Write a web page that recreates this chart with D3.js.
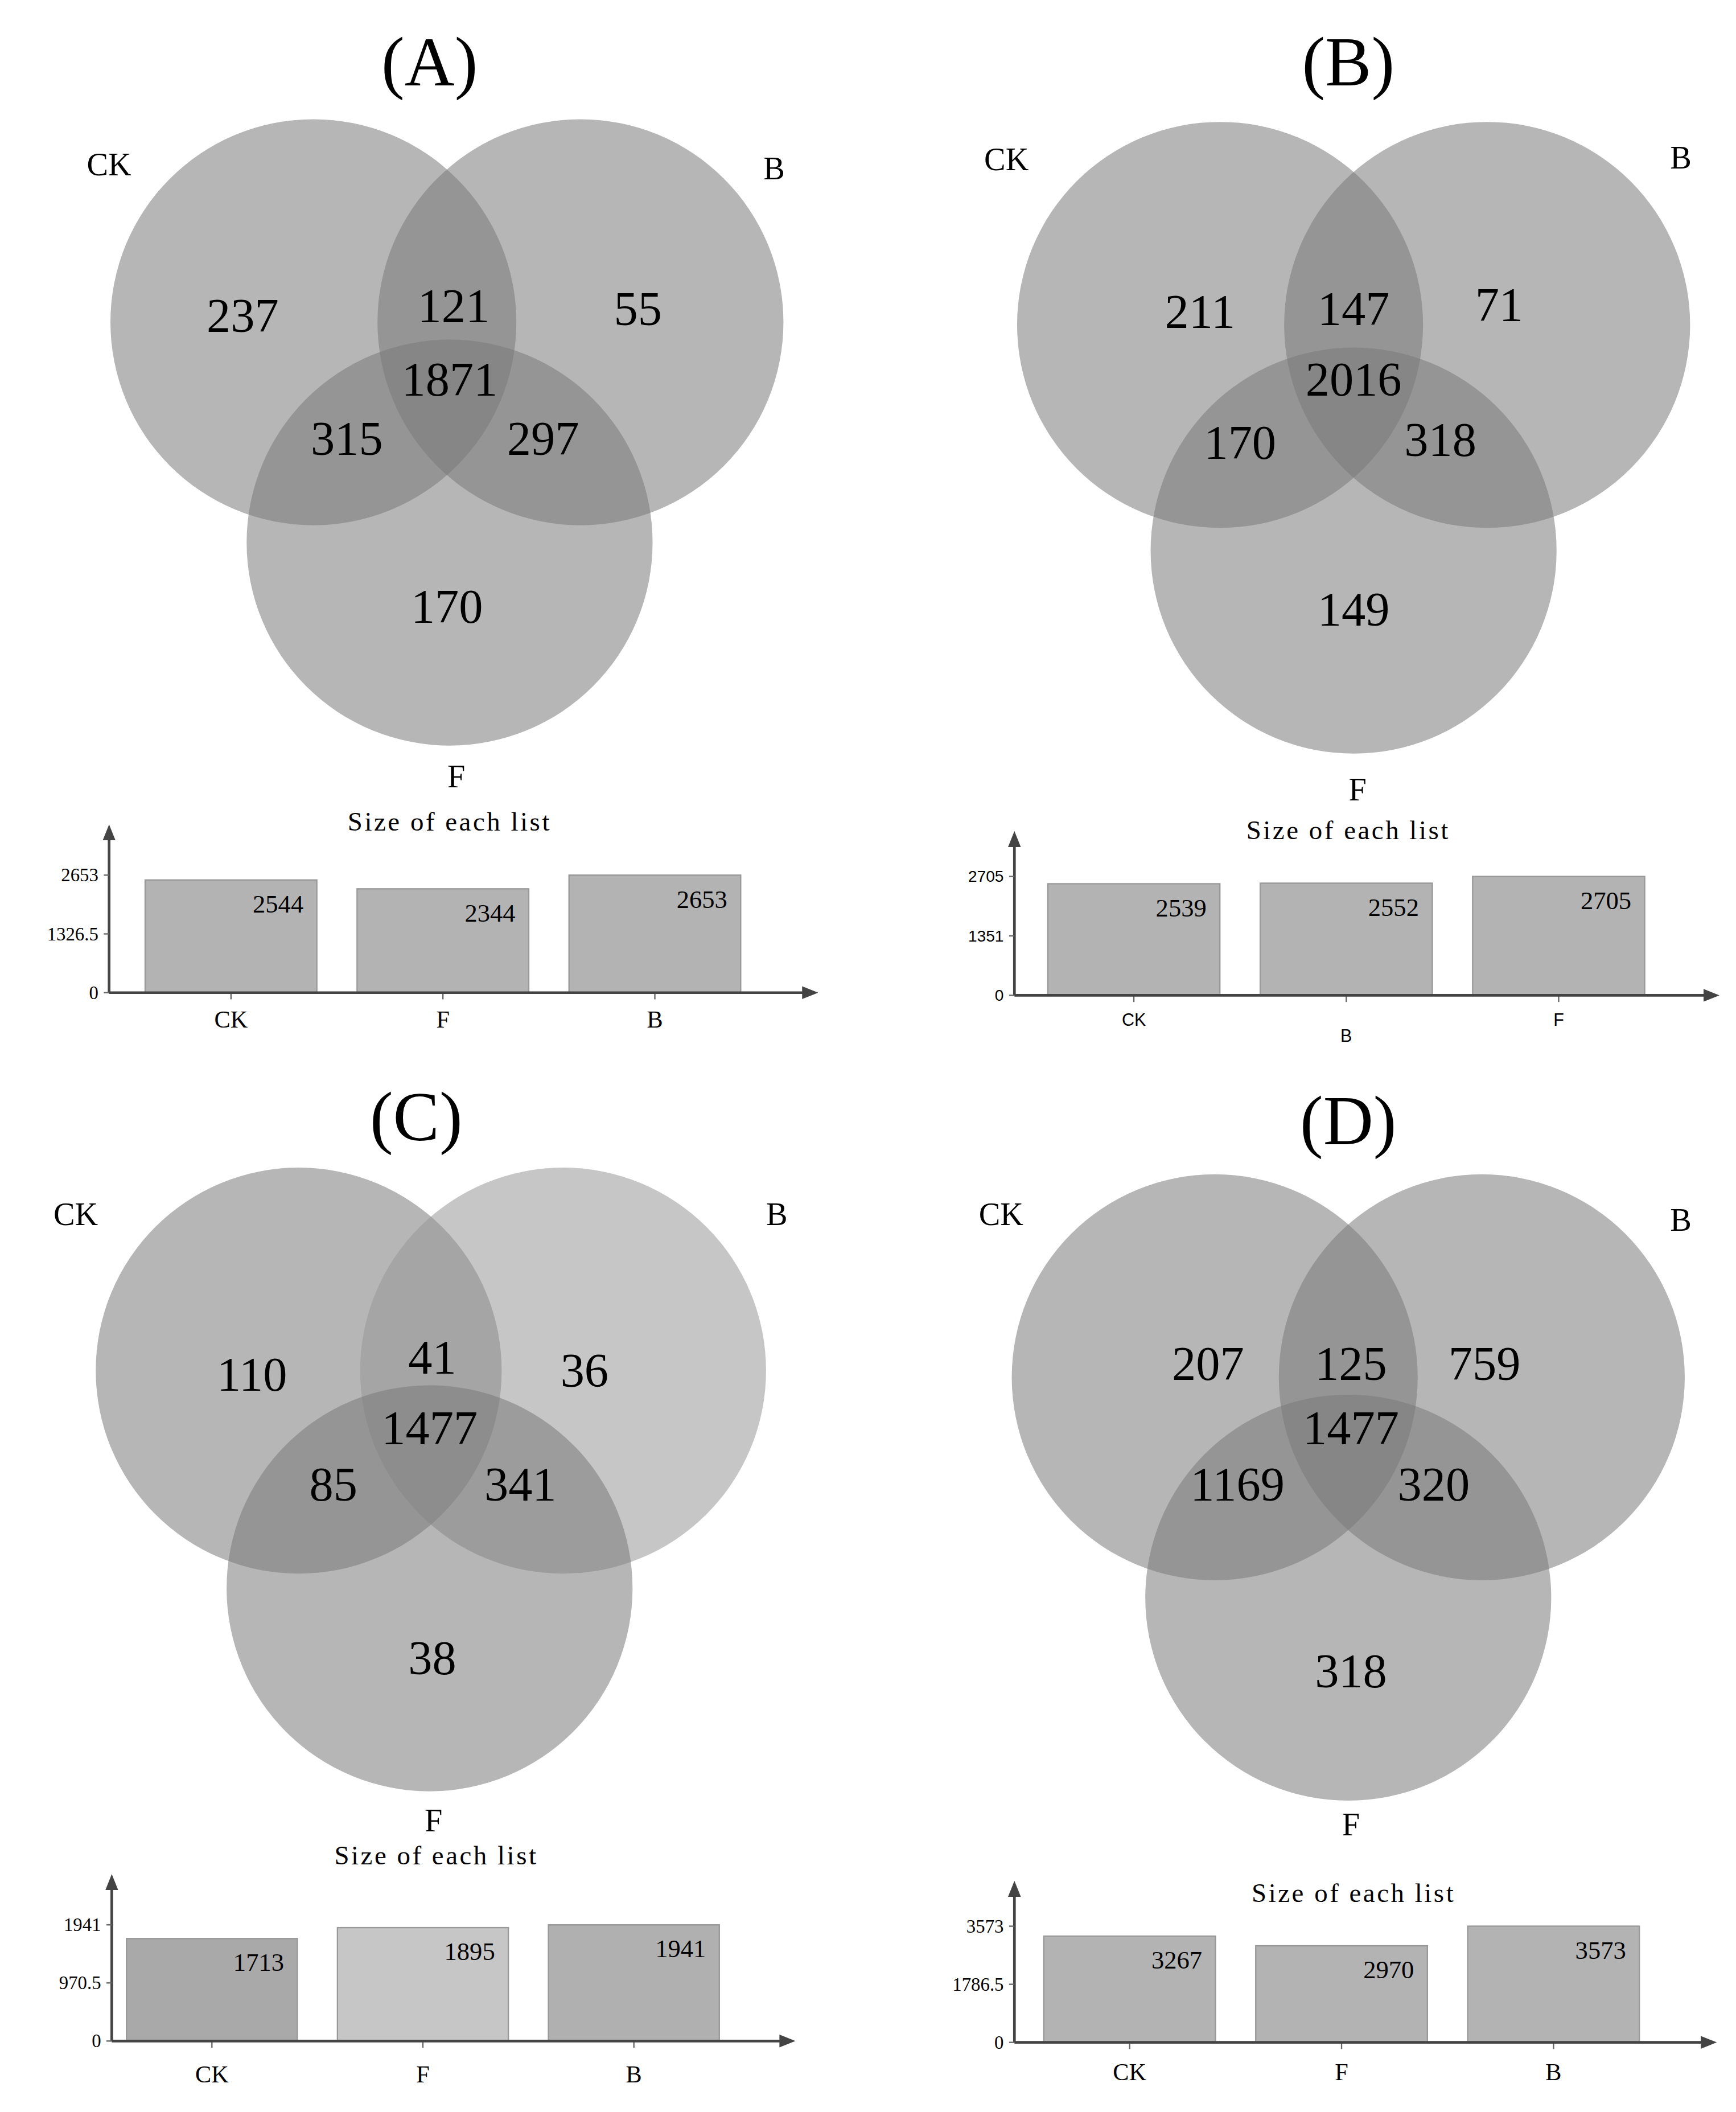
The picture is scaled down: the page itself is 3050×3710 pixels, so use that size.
<!DOCTYPE html>
<html><head><meta charset="utf-8">
<script src="https://cdn.jsdelivr.net/npm/d3@7"></script>
<style>body{margin:0;background:#fff}</style></head>
<body><svg id="c" width="3050" height="3710"></svg>
<script>
const panelTitles = ["(A)", "(B)", "(C)", "(D)"];
const setNames = ["CK", "B", "F"];
// region counts: CK only, CK∩B, B only, all, CK∩F, B∩F, F only
const regionA = [237, 121, 55, 1871, 315, 297, 170];
const regionB = [211, 147, 71, 2016, 170, 318, 149];
const regionC = [110, 41, 36, 1477, 85, 341, 38];
const regionD = [207, 125, 759, 1477, 1169, 320, 318];
const barCatsA = ["CK", "F", "B"], barValsA = [2544, 2344, 2653];
const barCatsB = ["CK", "B", "F"], barValsB = [2539, 2552, 2705];
const barCatsC = ["CK", "F", "B"], barValsC = [1713, 1895, 1941];
const barCatsD = ["CK", "F", "B"], barValsD = [3267, 2970, 3573];
const tickLabelsA = ["0", "1326.5", "2653"];
const tickLabelsB = ["0", "1351", "2705"];
const tickLabelsC = ["0", "970.5", "1941"];
const tickLabelsD = ["0", "1786.5", "3573"];

const layouts = [
 {title:[320,45], circ:[[233,240],[433,240],[335,405]], lab:[[80,122],[578,125],[340,580]],
  num:[[180,235],[338,228],[476,230],[335,283],[258,327],[405,327],[333,453]],
  bt:[335,614], o:[80,742], top:622, xend:605, tickY:654, bx:[107,553], xly:762, sans:false,
  circFill:["#7a7a7a","#7a7a7a","#7a7a7a"], barFill:["#b3b3b3","#b3b3b3","#b3b3b3"]},
 {title:[1008,45], circ:[[912,242],[1112,242],[1012,411]], lab:[[752,118],[1257,117],[1015,590]],
  num:[[897,232],[1012,230],[1121,227],[1012,283],[927,330],[1077,328],[1012,455]],
  bt:[1008,620], o:[758,744], top:627, xend:1280, tickY:655, bx:[783,1230], xly:762, sans:true,
  circFill:["#7a7a7a","#7a7a7a","#7a7a7a"], barFill:["#b3b3b3","#b3b3b3","#b3b3b3"]},
 {title:[310,835], circ:[[222,1025],[420,1025],[320,1188]], lab:[[55,908],[580,908],[323,1362]],
  num:[[187,1028],[322,1015],[436,1025],[320,1068],[248,1110],[388,1110],[322,1240]],
  bt:[325,1388], o:[82,1527], top:1408, xend:588, tickY:1440, bx:[93,537], xly:1552, sans:false,
  circFill:["#7a7a7a","#979797","#7a7a7a"], barFill:["#a9a9a9","#c6c6c6","#b0b0b0"]},
 {title:[1008,838], circ:[[908,1030],[1108,1030],[1008,1195]], lab:[[748,908],[1257,912],[1010,1365]],
  num:[[903,1020],[1010,1020],[1110,1020],[1010,1068],[925,1110],[1072,1110],[1010,1250]],
  bt:[1012,1416], o:[758,1528], top:1413, xend:1278, tickY:1441, bx:[780,1226], xly:1550, sans:false,
  circFill:["#7a7a7a","#7a7a7a","#7a7a7a"], barFill:["#b3b3b3","#b3b3b3","#b3b3b3"]}
];
const regions = [regionA, regionB, regionC, regionD];
const barCats = [barCatsA, barCatsB, barCatsC, barCatsD];
const barVals = [barValsA, barValsB, barValsC, barValsD];
const tickLabels = [tickLabelsA, tickLabelsB, tickLabelsC, tickLabelsD];

const k = 2.346;
const serif = "'Liberation Serif','DejaVu Serif',serif";
const svg = d3.select("#c");
svg.append("rect").attr("width",3050).attr("height",3710).attr("fill","#fff");
const defs = svg.append("defs");
defs.append("marker").attr("id","arr").attr("viewBox","0 0 10 10").attr("refX",5).attr("refY",5)
  .attr("markerWidth",6).attr("markerHeight",6).attr("orient","auto")
  .append("path").attr("d","M0,1L10,5L0,9Z").attr("fill","#444");
const g = svg.append("g").attr("transform",`translate(4,3) scale(${k})`);

layouts.forEach((L,i)=>{
  g.append("text").attr("x",L.title[0]).attr("y",L.title[1]).attr("text-anchor","middle")
    .attr("dominant-baseline","central").attr("font-family",serif).attr("font-size",52).text(panelTitles[i]);
  L.circ.forEach((c,j)=>{
    g.append("circle").attr("cx",c[0]).attr("cy",c[1]).attr("r",152)
      .attr("fill",L.circFill[j]).attr("fill-opacity",0.55);
  });
  L.lab.forEach((p,j)=>{
    g.append("text").attr("x",p[0]).attr("y",p[1]).attr("text-anchor","middle").attr("dominant-baseline","central")
      .attr("font-family",serif).attr("font-size",24).text(setNames[j]);
  });
  regions[i].forEach((v,j)=>{
    g.append("text").attr("x",L.num[j][0]).attr("y",L.num[j][1]).attr("text-anchor","middle").attr("dominant-baseline","central")
      .attr("font-family",serif).attr("font-size",36).text(v);
  });
  g.append("text").attr("x",L.bt[0]).attr("y",L.bt[1]).attr("text-anchor","middle").attr("dominant-baseline","central")
    .attr("font-family",serif).attr("font-size",20).attr("letter-spacing",1.5).text("Size of each list");
  const vals = barVals[i], cats = barCats[i];
  const max = d3.max(vals);
  const y = d3.scaleLinear().domain([0,max]).range([L.o[1], L.tickY]);
  const x = d3.scaleBand().domain(cats).range(L.bx).paddingInner(0.19).paddingOuter(0);
  cats.forEach((c,j)=>{
    g.append("rect").attr("x",x(c)).attr("y",y(vals[j])).attr("width",x.bandwidth())
      .attr("height",y(0)-y(vals[j])).attr("fill",L.barFill[j]).attr("stroke","#999").attr("stroke-width",1);
    g.append("text").attr("x",x(c)+x.bandwidth()-10).attr("y",y(vals[j])+18).attr("text-anchor","end")
      .attr("dominant-baseline","central").attr("font-family",serif).attr("font-size",19).text(vals[j]);
    g.append("line").attr("x1",x(c)+x.bandwidth()/2).attr("x2",x(c)+x.bandwidth()/2)
      .attr("y1",L.o[1]).attr("y2",L.o[1]+5).attr("stroke","#666");
    g.append("text").attr("x",x(c)+x.bandwidth()/2).attr("y",L.xly + (L.sans && c==="B"?12:0))
      .attr("text-anchor","middle").attr("dominant-baseline","central")
      .attr("font-family",L.sans?"'Liberation Sans',Arial,sans-serif":serif).attr("font-size",L.sans?13:18).text(c);
  });
  g.append("line").attr("x1",L.o[0]).attr("y1",L.o[1]).attr("x2",L.o[0]).attr("y2",L.top)
    .attr("stroke","#444").attr("stroke-width",2).attr("marker-end","url(#arr)");
  g.append("line").attr("x1",L.o[0]).attr("y1",L.o[1]).attr("x2",L.xend).attr("y2",L.o[1])
    .attr("stroke","#444").attr("stroke-width",2).attr("marker-end","url(#arr)");
  const tvals = [0, max/2, max];
  tvals.forEach((t,j)=>{
    g.append("line").attr("x1",L.o[0]-4).attr("x2",L.o[0]).attr("y1",y(t)).attr("y2",y(t)).attr("stroke","#666");
    g.append("text").attr("x",L.o[0]-8).attr("y",y(t)).attr("text-anchor","end").attr("dominant-baseline","central")
      .attr("font-family",L.sans?"'Liberation Sans',Arial,sans-serif":serif).attr("font-size",L.sans?12:14).text(tickLabels[i][j]);
  });
});
</script></body></html>
